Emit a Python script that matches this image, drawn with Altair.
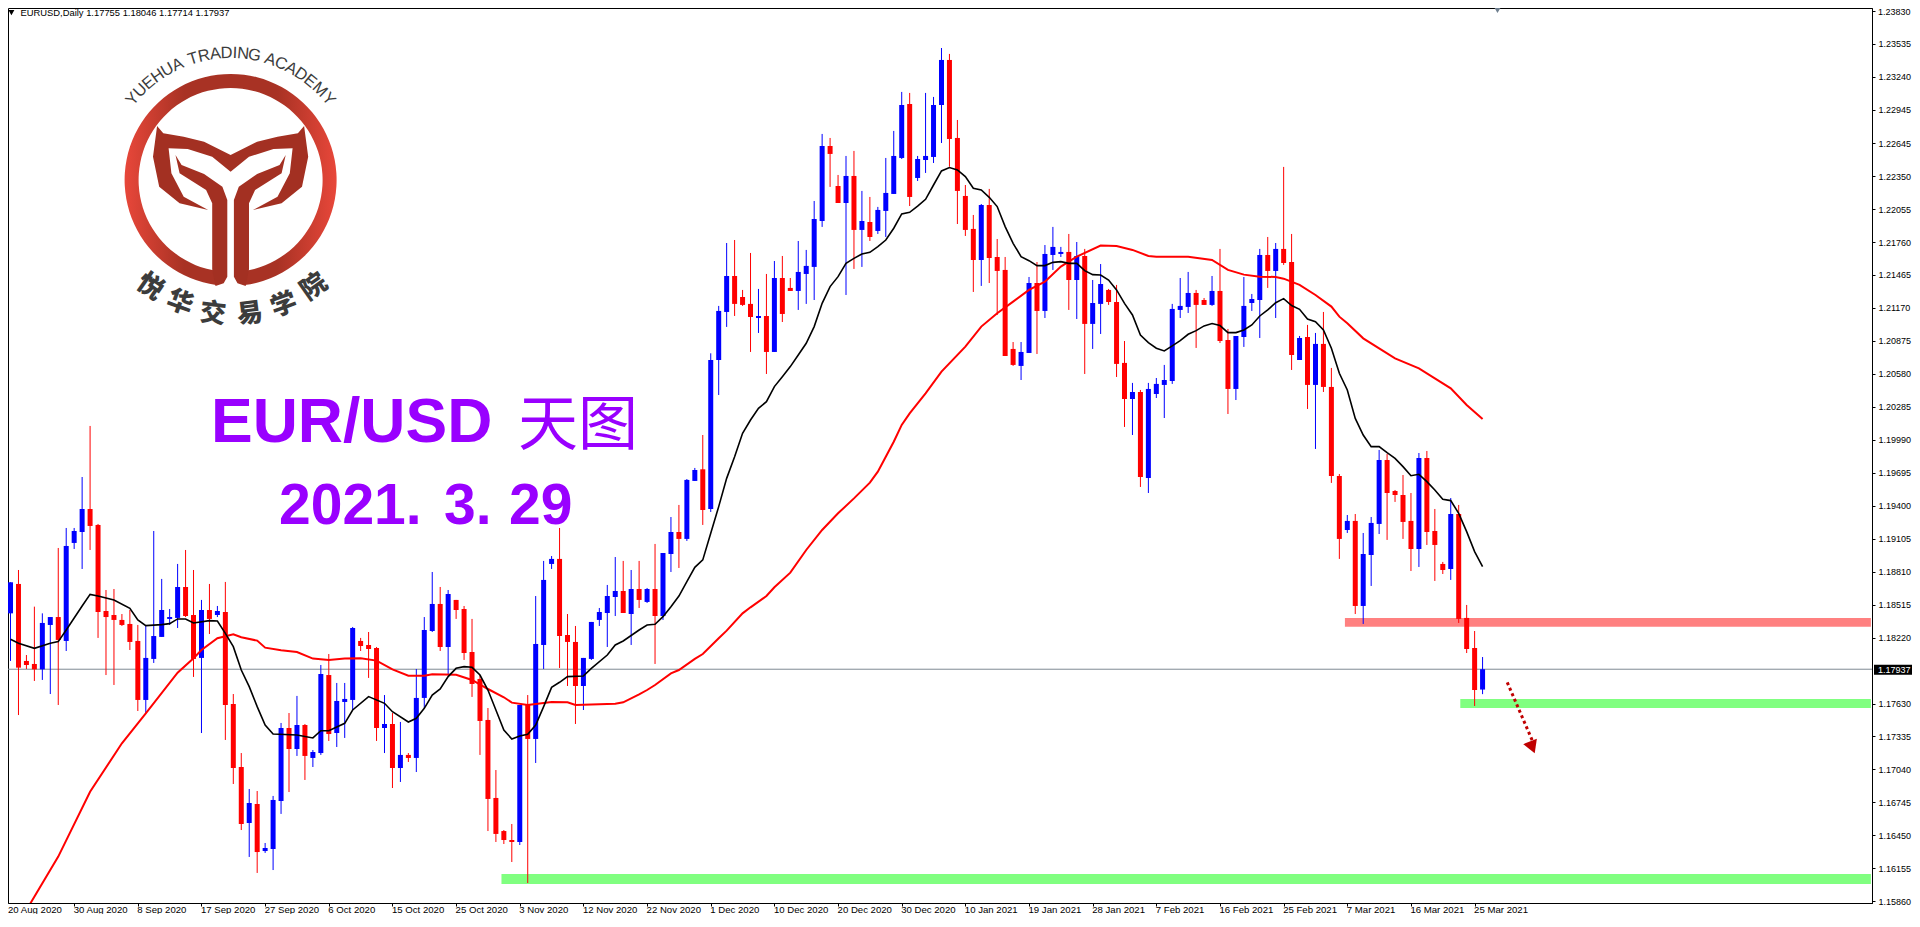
import json, math
import altair as alt
import pandas as pd

# --- candles, in MT4 points (1e-5) ---
direction = ("BRRRBBRBBB" "RRRRRRRBBB" "BBRRBRBRRR" "BRBBBRBRBB" "RBBBRRRBRB"
             "RBBBRBRRRR" "RRRRBRBBBR" "RRBBBBBRBR" "BRBBRBBRBB" "BRRRBRBRRB"
             "BBBRRBRBRB" "BBBRBBBBRR" "RRBRRRRBBR" "BBBRBRBBRR" "RBRBBBBBBR"
             "RBRRBBBBRB" "RRBRBRRRBR" "BBBRRRRBRR" "RBRRRB")
high_pts = [
 118715,118825,118064,118497,118437,118404,119022,119201,119201,119657,
 120114,119237,118646,118655,118431,118467,118333,118333,119174,118745,
 118476,118879,119004,118825,118557,118700,118503,118718,117715,117187,
 116865,116847,116382,116803,117456,117545,117698,117447,117214,117975,
 118073,117814,117814,118315,118217,118270,118136,117706,117545,117465,
 117187,117939,118404,118807,118673,118646,118557,118503,118387,117885,
 117590,117035,116498,116552,117617,117706,118592,118906,118950,119201,
 118431,118324,118038,118360,118485,118691,118941,118906,118825,118906,
 118664,119058,118977,119299,119407,119639,119738,120033,120764,121188,
 121751,121778,121331,121662,121340,121474,121590,121635,121438,121769,
 121689,122127,122727,122691,122360,122530,122575,122217,122163,122074,
 122512,122754,123103,123094,122530,123094,123058,123496,123443,122852,
 122270,122002,122100,122235,121787,121626,120865,120865,121447,121581,
 121733,121895,121716,121832,121760,121698,121420,121563,121340,121376,
 120874,120499,120436,120499,120543,120660,121206,121438,121492,121331,
 121259,121456,121698,120982,120919,121447,121295,121698,121805,121751,
 122432,121832,120919,121018,120946,121134,120633,119684,119317,119326,
 119156,119299,119899,119863,119541,119675,119514,119872,119890,119371,
 118897,119469,119407,118512,118279,118046]
body_top_pts = [
 118715,118700,118011,117984,118351,118404,118404,119040,119174,119371,
 119371,119228,118458,118422,118378,118342,118190,118038,118234,118467,
 118404,118673,118673,118422,118467,118467,118458,118449,117626,117062,
 116740,116731,116337,116767,117411,117411,117438,117438,117196,117894,
 117885,117653,117671,118306,118190,118154,118127,117447,117447,117170,
 117170,117680,118288,118521,118521,118610,118557,118476,118091,117850,
 117483,116785,116489,116409,117617,117617,118163,118736,118924,118924,
 118243,118181,118038,118360,118449,118592,118637,118637,118655,118655,
 118655,118655,118977,119165,119165,119631,119720,119726,120704,121143,
 121456,121456,121268,121206,121098,121098,121438,121438,121349,121492,
 121546,121966,122619,122619,122261,122351,122351,121948,121939,122047,
 122199,122530,122986,122995,122503,122530,122986,123389,123389,122691,
 122172,121877,122091,122091,121626,121510,120803,120776,121393,121393,
 121653,121716,121671,121671,121635,121635,121214,121384,121331,121223,
 120678,120418,120418,120445,120490,120525,121161,121188,121304,121304,
 121241,121322,121322,120883,120919,121188,121250,121644,121644,121698,
 121698,121581,120901,120910,120848,120848,120463,119666,119264,119264,
 118968,119246,119809,119809,119532,119496,119264,119827,119827,119174,
 118879,119326,119326,118396,118127,117937]
body_bottom_pts = [
 118437,117951,117975,117936,117936,118333,118199,118190,119067,119165,
 119219,118449,118404,118378,118333,118181,117662,117662,118029,118226,
 118387,118396,118413,118029,118038,118387,118422,117617,117053,116552,
 116561,116301,116310,116328,116758,117223,117223,117161,117143,117187,
 117357,117366,117644,117662,118145,118118,117411,117411,117053,117053,
 117143,117143,117680,118279,118136,118136,118467,118082,117805,117474,
 116776,116463,116409,116391,116391,117313,117313,118154,118879,118234,
 118181,117787,117787,118029,118378,118440,118583,118440,118431,118557,
 118539,118413,118413,118968,119103,119103,119622,119362,119371,120704,
 121134,121206,121197,121089,121080,120776,120776,121116,121322,121322,
 121474,121537,121948,122548,122109,122109,121868,121868,121805,121859,
 122038,122190,122512,122163,122333,122494,122521,122986,122682,122217,
 121868,121599,121599,121617,121501,120740,120660,120651,120767,121143,
 121143,121644,121653,121420,121420,121027,121027,121206,121223,120669,
 120355,120355,119657,119648,120400,120481,120516,121152,121179,121197,
 121197,121197,120874,120445,120445,120910,121214,121241,121501,121501,
 121572,120749,120704,120481,120481,120463,119666,119103,119183,118503,
 118503,118959,119237,119514,119496,119255,119013,119013,119165,119049,
 118825,118834,118387,118118,117751,117755]
low_pts = [
 118011,117527,117939,117832,117841,117715,117617,118100,119013,118834,
 119004,118217,117885,117796,118324,118109,117563,117542,117993,118226,
 118333,118306,118404,117868,117366,118252,118404,117304,116910,116498,
 116257,116114,116293,116140,116642,116838,117161,116946,117062,117170,
 117295,117241,117322,117572,118100,117859,117295,117187,116874,116928,
 117107,117017,117590,118270,118100,117885,118387,118020,117689,117170,
 116489,116391,116373,116212,116364,116024,117098,117939,118834,117948,
 117787,117447,117572,118020,118324,118136,118413,118440,118154,118485,
 118530,117984,118378,118807,118843,119085,119622,119228,119344,120391,
 121000,121098,121188,120776,120946,120579,120776,121044,121322,121152,
 121206,121241,121895,122253,122109,121286,121519,121537,121769,121832,
 121805,122190,122503,122082,122306,122378,122467,122646,122434,121921,
 121814,121313,121367,121393,121107,120740,120651,120525,120767,120758,
 121080,121510,121626,121152,121071,120579,120803,120937,121197,120552,
 120105,120033,119568,119514,120364,120185,120490,121080,121125,120812,
 121197,121188,120856,120221,120346,120821,121143,120901,121349,121080,
 121555,120615,120704,120266,119908,120418,119604,118924,119156,118431,
 118342,118682,119147,119094,119434,119103,118816,118852,119049,118727,
 118789,118736,118351,118082,117608,117714]

# --- moving averages: bar index, value in points ---
fast_ma = [(0,118205),(1,118169),(3,118124),(5,118169),(6,118184),(7,118288),(9,118503),(10,118607),(11,118592),(13,118557),
 (15,118482),(16,118378),(17,118327),(19,118336),(20,118345),(21,118387),(22,118387),(23,118351),(25,118372),(26,118369),
 (27,118258),(28,118139),(29,117930),(30,117781),(31,117602),(32,117438),(33,117357),(36,117348),(38,117322),(39,117387),
 (40,117387),(42,117453),(43,117572),(45,117692),(47,117632),(48,117557),(50,117465),(51,117498),(52,117587),(53,117706),
 (54,117760),(55,117871),(56,117945),(57,117960),(58,117954),(59,117885),(60,117751),(61,117572),(62,117393),(63,117313),
 (64,117340),(65,117354),(66,117438),(67,117602),(68,117775),(69,117820),(70,117871),(72,117877),(73,117945),(75,118064),
 (76,118154),(77,118190),(79,118288),(80,118333),(81,118339),(82,118407),(83,118497),(84,118592),(85,118721),(86,118849),
 (87,118915),(88,119153),(89,119392),(90,119645),(91,119839),(92,120048),(93,120167),(94,120272),(95,120331),(96,120466),
 (97,120555),(98,120645),(99,120749),(100,120854),(101,121003),(102,121211),(103,121361),(104,121450),(105,121569),(106,121614),
 (107,121653),(108,121668),(109,121719),(110,121778),(111,121883),(112,122011),(113,122026),(114,122082),(115,122142),(116,122270),
 (117,122396),(118,122426),(119,122405),(120,122345),(121,122241),(122,122226),(123,122160),(124,122077),(125,121898),(126,121748),
 (127,121629),(128,121593),(129,121549),(130,121549),(131,121578),(132,121584),(133,121569),(134,121569),(135,121504),(136,121468),
 (137,121465),(138,121420),(139,121331),(140,121211),(141,121107),(142,120928),(143,120859),(144,120809),(145,120785),(146,120830),
 (147,120877),(148,120934),(149,120967),(150,121009),(151,121030),(152,121012),(153,120949),(154,120949),(155,120973),(156,121018),
 (157,121098),(158,121152),(159,121217),(160,121253),(161,121191),(162,121158),(163,121071),(164,121047),(165,120973),(166,120809),
 (167,120585),(168,120436),(169,120182),(170,120033),(171,119929),(172,119929),(173,119875),(174,119824),(175,119750),(176,119669),
 (177,119681),(178,119616),(179,119541),(180,119457),(181,119446),(182,119332),(183,119168),(184,118989),(185,118855)]
slow_ma = [(2,115782),(6,116260),(10,116841),(14,117274),(17,117542),(21,117906),(23,118035),(24,118109),(26,118214),(28,118249),
 (29,118223),(31,118193),(32,118130),(34,118106),(36,118091),(38,118032),(40,118020),(42,118032),(44,118035),(46,118014),
 (48,117936),(50,117879),(52,117879),(53,117891),(56,117888),(58,117841),(60,117760),(62,117686),(63,117638),(65,117617),
 (68,117644),(70,117641),(71,117617),(76,117629),(77,117641),(79,117712),(80,117751),(81,117796),(83,117900),(84,117930),
 (86,118029),(87,118073),(89,118214),(90,118282),(92,118437),(93,118491),(95,118592),(96,118670),(98,118801),(100,119004),
 (102,119183),(104,119332),(106,119466),(108,119607),(109,119705),(110,119839),(111,119973),(112,120123),(113,120227),(115,120406),
 (117,120600),(120,120824),(122,121003),(124,121122),(126,121226),(128,121331),(130,121405),(132,121540),(134,121629),(137,121728),
 (139,121725),(141,121689),(143,121635),(144,121629),(148,121629),(151,121599),(153,121510),(155,121468),(157,121450),(159,121447),
 (160,121432),(162,121376),(164,121286),(166,121182),(167,121092),(168,121032),(170,120898),(172,120809),(174,120719),(177,120630),
 (179,120540),(181,120451),(183,120302),(185,120176)]

# --- axes ---
date_labels = ["20 Aug 2020","30 Aug 2020","8 Sep 2020","17 Sep 2020","27 Sep 2020","6 Oct 2020","15 Oct 2020","25 Oct 2020",
 "3 Nov 2020","12 Nov 2020","22 Nov 2020","1 Dec 2020","10 Dec 2020","20 Dec 2020","30 Dec 2020","10 Jan 2021","19 Jan 2021",
 "28 Jan 2021","7 Feb 2021","16 Feb 2021","25 Feb 2021","7 Mar 2021","16 Mar 2021","25 Mar 2021"]
price_ticks = [1.23830,1.23535,1.23240,1.22945,1.22645,1.22350,1.22055,1.21760,1.21465,1.21170,1.20875,1.20580,1.20285,
 1.19990,1.19695,1.19400,1.19105,1.18810,1.18515,1.18220,1.17630,1.17335,1.17040,1.16745,1.16450,1.16155,1.15860]
last_price = 1.17937

# --- drawn objects ---
zones = [  # from bar, top, bottom, colour
 (167.7, 1.18396, 1.18318, "#FF8080"),
 (182.2, 1.17671, 1.17590, "#80FF80"),
 (61.7, 1.16105, 1.16015, "#80FF80")]
arrow = [(188.1, 1.17820), (191.3, 1.17290)]
arrow_head = [(191.26, 1.17238)]

W, H = 1864, 895
xs = alt.Scale(domain=[0.3125, 233.3125], nice=False, zero=False)
ys = alt.Scale(domain=[1.15845, 1.23854], nice=False, zero=False)

axis_x = alt.Axis(values=list(range(8, 185, 8)), title=None, grid=False, tickSize=3, tickColor="black",
                  domainColor="black", labelFont="Liberation Sans", labelFontSize=9.6, labelColor="black",
                  labelAlign="left", labelBaseline="alphabetic", labelPadding=6.5, labelOffset=-1, labelOverlap=False,
                  labelBound=False, labelFlush=False,
                  labelExpr=json.dumps(date_labels) + "[round(datum.value/8)]")
axis_y = alt.Axis(values=price_ticks, orient="right", format=".5f", title=None, grid=False, tickSize=3,
                  tickColor="black", domainColor="black", labelFont="Liberation Sans", labelFontSize=9,
                  labelColor="black", labelPadding=3, labelOverlap=False, labelBound=False, labelFlush=False,
                  labelExpr="datum.value > 1.238 ? '' : datum.label")
X = lambda f: alt.X(f, type="quantitative", scale=xs, axis=axis_x)
Y = lambda f: alt.Y(f, type="quantitative", scale=ys, axis=axis_y)

candles = pd.DataFrame({
    "i": range(len(direction)), "d": list(direction),
    "h": [v / 1e5 for v in high_pts], "t": [v / 1e5 for v in body_top_pts],
    "b": [v / 1e5 for v in body_bottom_pts], "l": [v / 1e5 for v in low_pts]})
col = alt.Color("d:N", scale=alt.Scale(domain=["B", "R"], range=["#0000FF", "#FF0000"]), legend=None)

one = pd.DataFrame({"k": [0]})

zone_df = pd.DataFrame(zones, columns=["x0", "top", "bot", "c"]).assign(x1=233.8)
zone_layer = alt.Chart(zone_df).mark_rect(clip=False).encode(
    x=X("x0"), x2="x1:Q", y=Y("top"), y2="bot:Q", color=alt.Color("c:N", scale=None))

last_line = alt.Chart(pd.DataFrame({"p": [last_price]})).mark_rule(color="#7F8A94", strokeWidth=1).encode(
    y=Y("p"), x=alt.value(0), x2=alt.value(W))

wicks = alt.Chart(candles).mark_rule(strokeWidth=1, clip=True).encode(x=X("i"), y=Y("h"), y2="l:Q", color=col)
bodies = alt.Chart(candles).mark_bar(size=5, clip=True).encode(x=X("i"), y=Y("t"), y2="b:Q", color=col)

def ma_layer(rows, colour, w):
    d = pd.DataFrame(rows, columns=["i", "p"])
    d["p"] = d["p"] / 1e5
    return alt.Chart(d).mark_line(color=colour, strokeWidth=w, clip=True).encode(x=X("i"), y=Y("p"))

fast_layer = ma_layer(fast_ma, "#000000", 1.6)
slow_layer = ma_layer(slow_ma, "#FF0000", 2)

arrow_df = pd.DataFrame(arrow, columns=["i", "p"])
arrow_line = alt.Chart(arrow_df).mark_line(color="#C00000", strokeWidth=3, strokeDash=[3, 3]).encode(x=X("i"), y=Y("p"))
head_df = pd.DataFrame(arrow_head, columns=["i", "p"])
arrow_tip = alt.Chart(head_df).mark_point(shape="triangle-up", size=213, filled=True, opacity=1, color="#C00000",
                                          angle=158.5).encode(x=X("i"), y=Y("p"))

def text(s, x, y, size, font="Liberation Sans", weight="normal", color="black", align="left",
         baseline="alphabetic", angle=0):
    return alt.Chart(one).mark_text(text=s, font=font, fontSize=size, fontWeight=weight, color=color,
                                    align=align, baseline=baseline, angle=angle).encode(
        x=alt.value(x), y=alt.value(y))

purple = "#9900FF"
titles = [
    text("EUR/USD", 203, 434, 62.5, weight="bold", color=purple),
    text("天图", 510, 437, 60, font="Noto Sans CJK SC", color=purple),
    text("2021.", 271, 516, 57, weight="bold", color=purple),
    text("3.", 436, 516, 57, weight="bold", color=purple),
    text("29", 501, 516, 57, weight="bold", color=purple),
    text("EURUSD,Daily  1.17755 1.18046 1.17714 1.17937", 12.5, 4.7, 9.4, baseline="middle"),
    text("20 Aug 2020", 0, 904.5, 9.6),
    text("1.23830", 1870, 4.2, 9, baseline="middle"),
]
header_tri = alt.Chart(one).mark_point(shape="triangle-down", size=36, filled=True, opacity=1, color="black").encode(
    x=alt.value(3.4), y=alt.value(4.7))
top_marker = alt.Chart(one).mark_point(shape="triangle-down", size=70, filled=True, opacity=1, color="#708090").encode(
    x=alt.value(1489.5), y=alt.value(1.5))

# last-price tag on the axis
tag = alt.Chart(one).mark_rect(color="black").encode(
    x=alt.value(1866), x2=alt.value(1904), y=alt.value(656.7), y2=alt.value(666.7))
tag_text = text("1.17937", 1870, 661.7, 9, color="white", baseline="middle")

# --- logo ---
cx, cy = 222.6, 172.0
ring = alt.Chart(one).mark_arc(
    innerRadius=92, outerRadius=106, theta=3.28, theta2=9.29,
    color=alt.Gradient(gradient="linear", x1=0, y1=0, x2=1, y2=0, stops=[
        alt.GradientStop(offset=0, color="#E8473A"), alt.GradientStop(offset=0.28, color="#A83224"),
        alt.GradientStop(offset=0.72, color="#A83224"), alt.GradientStop(offset=1, color="#E8473A")])
).encode(x=alt.value(cx), y=alt.value(cy))

crown_path = ("M-0.735,-0.54 L-0.776,-0.233 L-0.714,0.067 L-0.51,0.233 L-0.224,0.3 L-0.469,0.167 L-0.592,-0.067 "
              "L-0.62,-0.317 L-0.429,-0.31 L-0.184,-0.233 L0,-0.083 L0.184,-0.233 L0.429,-0.31 L0.62,-0.317 "
              "L0.592,-0.067 L0.469,0.167 L0.224,0.3 L0.51,0.233 L0.714,0.067 L0.776,-0.233 L0.735,-0.54 "
              "L0.673,-0.467 L0.469,-0.433 L0.265,-0.383 L0,-0.25 L-0.265,-0.383 L-0.469,-0.433 L-0.673,-0.467 Z")
stem_path = ("M-0.551,-0.25 L-0.49,-0.15 L-0.265,-0.06 L-0.082,0.067 L-0.033,0.2 L-0.033,0.967 L-0.069,1.033 "
             "L-0.151,1.06 L-0.184,0.893 L-0.184,0.233 L-0.245,0.1 L-0.51,-0.067 Z "
             "M0.551,-0.25 L0.49,-0.15 L0.265,-0.06 L0.082,0.067 L0.033,0.2 L0.033,0.967 L0.069,1.033 "
             "L0.151,1.06 L0.184,0.893 L0.184,0.233 L0.245,0.1 L0.51,-0.067 Z")
logo_shapes = [alt.Chart(one).mark_point(shape=p, size=40000, filled=True, opacity=1, color="#A33022", strokeWidth=0)
               .encode(x=alt.value(cx), y=alt.value(cy)) for p in (crown_path, stem_path)]

academy = "YUEHUA TRADING ACADEMY"
width_of = {"I": 0.3, "M": 0.85, " ": 0.3}
ws = [width_of.get(c, 0.68) for c in academy]
span, acc, logo_text = 106.0, 0.0, []
tot = sum(ws)
for c, w in zip(academy, ws):
    a = -span / 2 + span * (acc + w / 2) / tot
    acc += w
    r = math.radians(a)
    if c != " ":
        logo_text.append(text(c, cx + 122 * math.sin(r), cy - 122 * math.cos(r), 16.5, color="#3C3C3C",
                              align="center", angle=a % 360))

cn_chars = list("悦华交易学院")
cn_x = [142, 172, 205, 242, 276, 306]
cn_y = [279, 295, 306, 306, 297, 279]
cn_a = [35, 20, 7, 353, 340, 325]
for c, x_, y_, a_ in zip(cn_chars, cn_x, cn_y, cn_a):
    logo_text.append(text(c, x_, y_, 26, font="Noto Sans CJK SC", weight=900, color="#3C3C3C",
                          align="center", baseline="middle", angle=a_))

chart = alt.layer(
    zone_layer, last_line, wicks, bodies, slow_layer, fast_layer, arrow_line, arrow_tip,
    ring, *logo_shapes, *logo_text, *titles, header_tri, top_marker, tag, tag_text
).resolve_scale(x="shared", y="shared").properties(
    width=W, height=H,
    padding={"left": 0, "top": 0, "right": 40, "bottom": 11},
    autosize=alt.AutoSizeParams(type="none"),
    background="white"
).configure_view(stroke="black", strokeWidth=1)

chart.save("out.html", embed_options={"renderer": "svg", "actions": False})
